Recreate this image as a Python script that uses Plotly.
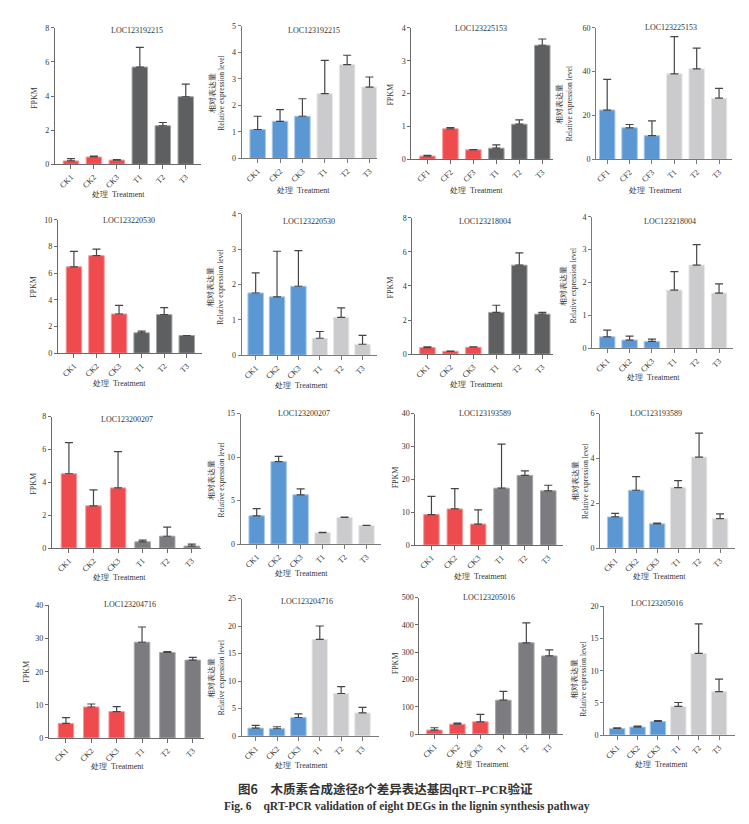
import plotly.graph_objects as go

W, H = 749, 824

# категории
cats_ck = ["CK1", "CK2", "CK3", "T1", "T2", "T3"]
cats_cf = ["CF1", "CF2", "CF3", "T1", "T2", "T3"]

# гены
genes = ["LOC123192215", "LOC123225153", "LOC123220530", "LOC123218004",
         "LOC123200207", "LOC123193589", "LOC123204716", "LOC123205016"]

# FPKM (среднее и SD)
fpkm_192215 = [0.20, 0.43, 0.25, 5.70, 2.26, 3.96]
fpkm_192215_sd = [0.13, 0.05, 0.02, 1.16, 0.19, 0.74]
fpkm_225153 = [0.10, 0.93, 0.29, 0.34, 1.07, 3.47]
fpkm_225153_sd = [0.02, 0.04, 0.01, 0.10, 0.13, 0.19]
fpkm_220530 = [6.47, 7.31, 2.94, 1.53, 2.89, 1.33]
fpkm_220530_sd = [1.16, 0.49, 0.64, 0.12, 0.52, None]
fpkm_218004 = [0.39, 0.17, 0.41, 2.45, 5.22, 2.35]
fpkm_218004_sd = [0.04, 0.02, 0.02, 0.42, 0.72, 0.10]
fpkm_200207 = [4.52, 2.57, 3.66, 0.38, 0.72, 0.12]
fpkm_200207_sd = [1.89, 0.97, 2.21, 0.10, 0.55, 0.12]
fpkm_193589 = [9.3, 11.0, 6.4, 17.3, 21.2, 16.5]
fpkm_193589_sd = [5.5, 6.2, 4.3, 13.4, 1.4, 1.7]
fpkm_204716 = [4.38, 9.35, 7.96, 28.9, 25.8, 23.5]
fpkm_204716_sd = [1.79, 0.90, 1.49, 4.6, 0.3, 0.8]
fpkm_205016 = [14.5, 36.0, 44.7, 124.0, 334.0, 286.0]
fpkm_205016_sd = [8.5, 4.0, 27.3, 32.0, 73.0, 22.0]

# qRT-PCR относительная экспрессия (среднее и SD)
rel_192215 = [1.09, 1.40, 1.59, 2.44, 3.54, 2.69]
rel_192215_sd = [0.50, 0.44, 0.66, 1.26, 0.35, 0.38]
rel_225153 = [22.5, 14.4, 10.8, 39.0, 41.3, 27.9]
rel_225153_sd = [14.0, 1.5, 6.8, 17.0, 9.4, 4.5]
rel_220530 = [1.76, 1.65, 1.95, 0.48, 1.07, 0.31]
rel_220530_sd = [0.57, 1.29, 1.01, 0.19, 0.27, 0.25]
rel_218004 = [0.35, 0.25, 0.21, 1.77, 2.53, 1.68]
rel_218004_sd = [0.20, 0.12, 0.07, 0.56, 0.62, 0.28]
rel_200207 = [3.25, 9.48, 5.67, 1.32, 3.06, 2.15]
rel_200207_sd = [0.83, 0.61, 0.68, 0.04, 0.04, None]
rel_193589 = [1.39, 2.58, 1.08, 2.70, 4.06, 1.31]
rel_193589_sd = [0.16, 0.61, 0.04, 0.31, 1.07, 0.22]
rel_204716 = [1.44, 1.32, 3.36, 17.57, 7.73, 4.20]
rel_204716_sd = [0.48, 0.36, 0.66, 2.43, 1.26, 1.02]
rel_205016 = [1.02, 1.23, 2.10, 4.45, 12.69, 6.75]
rel_205016_sd = [0.11, 0.15, 0.15, 0.61, 4.60, 1.95]

RED, RED_E = "#EF4A4E", "#F49A9C"
DARK1, DARK2, DARK_E = "#5E5F61", "#7C7C80", "#A5A5A7"
BLUE, BLUE_E = "#5B97D3", "#A9C8E9"
LGREY, LGREY_E = "#CBCBCD", "#E8E8E8"

YT_FPKM = "FPKM"
YT_REL = "相对表达量<br>Relative expression level"

# панели: данные, подписи, рамка в пикселях (x0, x1, центр 1-го и 6-го столбца, верх, ноль),
# ymax, dtick, позиции заголовков
panels = [
    (genes[0], fpkm_192215, fpkm_192215_sd, cats_ck, "f", (46, 192, 62, 177, 16, 154), 8, 2, (128, 19), (110, 185), (25, 87), DARK1),
    (genes[0], rel_192215, rel_192215_sd, cats_ck, "r", (233, 368, 249, 361, 14, 148), 5, 1, (305, 19), (295, 180), (208, 82), None),
    (genes[1], fpkm_225153, fpkm_225153_sd, cats_cf, "f", (403, 545, 419, 534, 16, 149), 4, 1, (473, 17), (468, 180), (382, 83), DARK1),
    (genes[1], rel_225153, rel_225153_sd, cats_cf, "r", (588, 724, 599, 711, 16, 149), 60, 20, (663, 16), (647, 180), (557, 93), None),
    (genes[2], fpkm_220530, fpkm_220530_sd, cats_ck, "f", (49, 193, 65, 178, 210, 345), 10, 2, (120, 211), (111, 376), (25, 278), DARK1),
    (genes[2], rel_220530, rel_220530_sd, cats_ck, "r", (233, 368, 247, 354, 204, 347), 4, 1, (300, 212), (293, 378), (207, 278), None),
    (genes[3], fpkm_218004, fpkm_218004_sd, cats_ck, "f", (404, 545, 419, 534, 208, 346), 8, 2, (477, 212), (468, 377), (382, 278), DARK1),
    (genes[3], rel_218004, rel_218004_sd, cats_ck, "r", (584, 725, 599, 711, 207, 340), 4, 1, (662, 212), (645, 370), (561, 277), None),
    (genes[4], fpkm_200207, fpkm_200207_sd, cats_ck, "f", (43, 192, 60, 183, 409, 542), 8, 2, (118, 412), (111, 572), (25, 477), DARK2),
    (genes[4], rel_200207, rel_200207_sd, cats_ck, "r", (232, 372, 248, 358, 406, 538), 15, 5, (295, 406), (293, 568), (208, 473), None),
    (genes[5], fpkm_193589, fpkm_193589_sd, cats_ck, "f", (407, 555, 423, 540, 406, 539), 40, 10, (477, 406), (472, 571), (387, 470), DARK2),
    (genes[5], rel_193589, rel_193589_sd, cats_ck, "r", (592, 727, 607, 712, 406, 542), 6, 2, (648, 406), (651, 571), (573, 475), None),
    (genes[6], fpkm_204716, fpkm_204716_sd, cats_ck, "f", (40, 195, 57, 184, 600, 734), 40, 10, (121, 599), (109, 763), (18, 667), DARK2),
    (genes[6], rel_204716, rel_204716_sd, cats_ck, "r", (233, 370, 247, 354, 593, 732), 25, 5, (298, 596), (293, 762), (208, 673), None),
    (genes[7], fpkm_205016, fpkm_205016_sd, cats_ck, "f", (411, 555, 426, 541, 592, 730), 500, 100, (481, 592), (474, 761), (387, 658), DARK2),
    (genes[7], rel_205016, rel_205016_sd, cats_ck, "r", (596, 727, 609, 711, 601, 731), 20, 5, (649, 598), (653, 761), (571, 675), None),
]

SERIF = "Liberation Serif"
CJK = "Noto Sans CJK SC"

fig = go.Figure()
annotations = []


def ann(text, px, py, size=7.5, angle=0, family=SERIF):
    annotations.append(dict(text=text, x=px / W, y=1 - py / H, xref="paper", yref="paper",
                            xanchor="center", yanchor="middle", showarrow=False,
                            textangle=angle, font=dict(family=family, size=size, color="#333")))


for i, (gene, vals, sd, cats, kind, box, ymax, dtick, tpos, xtpos, ytpos, dark) in enumerate(panels):
    n = i + 1
    x0, x1, c0, c5, ytop, yzero = box
    step = (c5 - c0) / 5
    if kind == "f":
        colors = [RED] * 3 + [dark] * 3
        edges = [RED_E] * 3 + [DARK_E] * 3
        axc = "#6a6a6a"
    else:
        colors = [BLUE] * 3 + [LGREY] * 3
        edges = [BLUE_E] * 3 + [LGREY_E] * 3
        axc = "#7a7a7a"
    xa = "x" if n == 1 else "x%d" % n
    ya = "y" if n == 1 else "y%d" % n
    fig.add_trace(go.Bar(
        x=cats, y=vals, xaxis=xa, yaxis=ya, width=15.5 / step,
        marker=dict(color=colors, line=dict(color=edges, width=1)),
        error_y=dict(type="data", symmetric=False, array=sd, arrayminus=[0] * 6,
                     color="#454545", thickness=1.2, width=4),
        showlegend=False, hoverinfo="x+y"))
    key = "" if n == 1 else str(n)
    fig.layout["xaxis" + key] = dict(
        domain=[x0 / W, x1 / W], anchor=ya, type="category",
        range=[-(c0 - x0) / step, 5 + (x1 - c5) / step],
        showline=True, linecolor=axc, linewidth=1, ticks="outside", ticklen=4,
        tickcolor=axc, tickwidth=1, tickangle=-45, showgrid=False,
        tickfont=dict(family=SERIF, size=8, color="#333"), fixedrange=True)
    fig.layout["yaxis" + key] = dict(
        domain=[1 - yzero / H, 1 - ytop / H], anchor=xa, range=[0, ymax],
        tick0=0, dtick=dtick, showline=True, linecolor=axc, linewidth=1,
        ticks="outside", ticklen=3, tickcolor=axc, tickwidth=1, showgrid=False,
        zeroline=False, tickfont=dict(family=SERIF, size=8, color="#333"),
        fixedrange=True)
    ann(gene, *tpos, size=8)
    ann("处理  Treatment", *xtpos, size=8)
    if kind == "f":
        ann(YT_FPKM, *ytpos, size=8, angle=-90)
    else:
        ann(YT_REL, *ytpos, size=7.5, angle=-90)

# подпись рисунка
ann("<b>图6　木质素合成途径<span style=\"font-family:Liberation Serif\">8</span>个差异表达基因"
    "<span style=\"font-family:Liberation Serif\">qRT–PCR</span>验证</b>", 377, 785, size=12.5, family=CJK)
ann("<b>Fig. 6　qRT-PCR validation of eight DEGs in the lignin synthesis pathway</b>", 399, 803, size=11.5)

fig.update_layout(width=W, height=H, margin=dict(l=0, r=0, t=0, b=0),
                  paper_bgcolor="white", plot_bgcolor="white",
                  annotations=annotations, bargap=0.3)

fig.write_html("out.html")
